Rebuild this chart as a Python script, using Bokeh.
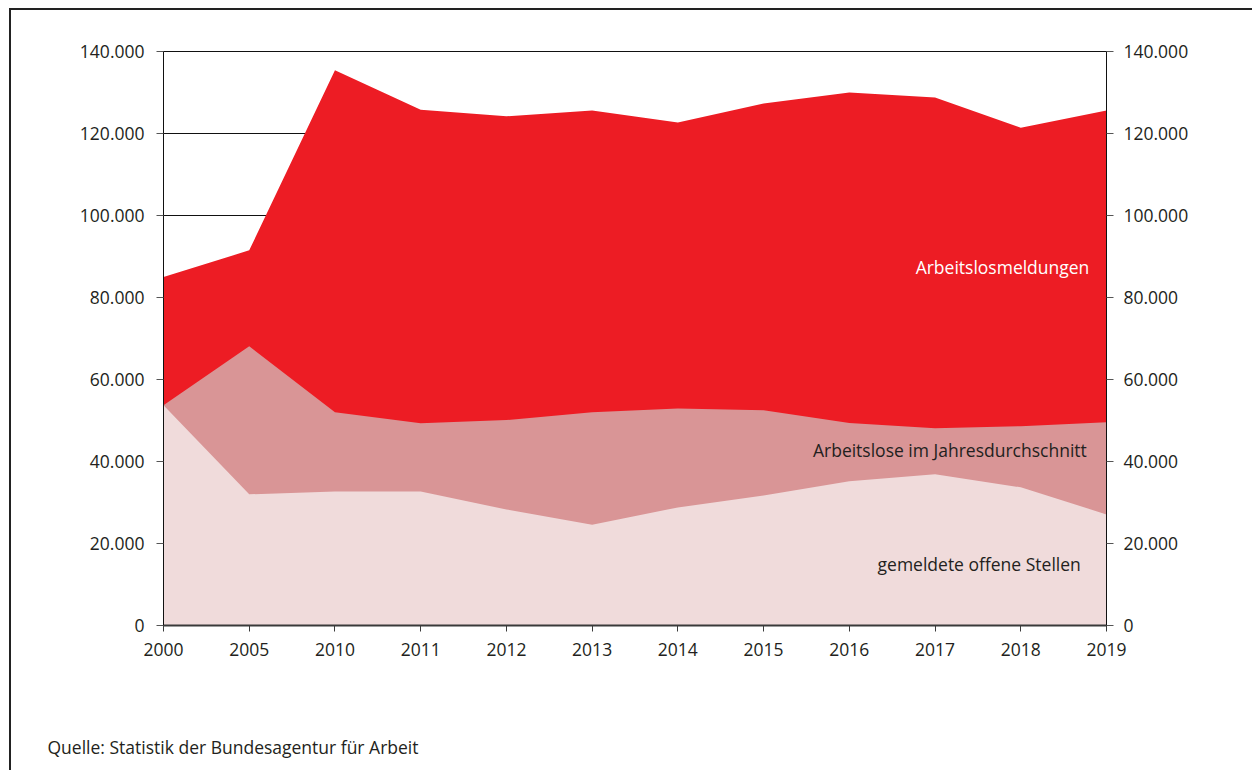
from bokeh.plotting import figure
from bokeh.models import Range1d, LinearAxis, FixedTicker, Label, Title
from bokeh.embed import file_html
from bokeh.resources import INLINE

years = ["2000", "2005", "2010", "2011", "2012", "2013", "2014", "2015", "2016", "2017", "2018", "2019"]
arbeitslosmeldungen = [85000, 91500, 135400, 125800, 124200, 125600, 122700, 127300, 130000, 128800, 121400, 125600]
arbeitslose = [53700, 68100, 52000, 49300, 50100, 52000, 52900, 52500, 49400, 48100, 48600, 49600]
offene_stellen = [53700, 32000, 32700, 32700, 28300, 24600, 28800, 31700, 35200, 36900, 33700, 27100]
y_ticks = [0, 20000, 40000, 60000, 80000, 100000, 120000, 140000]
y_tick_labels = ["0", "20.000", "40.000", "60.000", "80.000", "100.000", "120.000", "140.000"]

FONT = "Open Sans"
TXT = "#231f20"
idx = list(range(len(years)))

p = figure(width=1243, height=762, output_backend="svg", toolbar_location=None,
           x_range=Range1d(0, len(years) - 1), y_range=Range1d(0, 140000),
           min_border_left=152, min_border_right=148, min_border_top=41, min_border_bottom=147)
p.styles = {"margin-left": "9px", "margin-top": "8px",
            "border-top": "2px solid #222", "border-left": "2px solid #222"}
p.outline_line_color = "#111111"
p.outline_line_width = 1
p.background_fill_color = "white"
p.border_fill_color = "white"

p.varea(x=idx, y1=0, y2=arbeitslosmeldungen, fill_color="#ed1c24")
p.varea(x=idx, y1=0, y2=arbeitslose, fill_color="#d99596")
p.varea(x=idx, y1=0, y2=offene_stellen, fill_color="#f0dbdb")

p.xgrid.visible = False
p.ygrid.ticker = FixedTicker(ticks=y_ticks)
p.ygrid.grid_line_color = "#111111"
p.ygrid.grid_line_width = 1

overrides = {t: l for t, l in zip(y_ticks, y_tick_labels)}

def style_y(ax, standoff):
    ax.ticker = FixedTicker(ticks=y_ticks)
    ax.major_label_overrides = overrides
    ax.axis_line_color = "#111111"
    ax.axis_line_width = 1
    ax.major_tick_line_color = "#555555"
    ax.major_tick_out = 7
    ax.major_tick_in = 0
    ax.minor_tick_line_color = None
    ax.major_label_text_font = FONT
    ax.major_label_text_font_size = "17.5px"
    ax.major_label_text_color = TXT
    ax.major_label_standoff = standoff

style_y(p.yaxis[0], 12)
ry = LinearAxis()
style_y(ry, 10)
p.add_layout(ry, "right")

xa = p.xaxis[0]
xa.ticker = FixedTicker(ticks=idx)
xa.major_label_overrides = {i: y for i, y in zip(idx, years)}
xa.axis_line_color = "#3a3a3a"
xa.axis_line_width = 2
xa.major_tick_line_color = "#3a3a3a"
xa.major_tick_out = 6
xa.major_tick_in = 0
xa.minor_tick_line_color = None
xa.major_label_text_font = FONT
xa.major_label_text_font_size = "17.5px"
xa.major_label_text_color = TXT
xa.major_label_standoff = 11

p.add_layout(Label(x=10.8, y=87500, text="Arbeitslosmeldungen", text_align="right",
                   text_baseline="middle", text_font=FONT, text_font_size="17.5px", text_color="white"))
p.add_layout(Label(x=10.77, y=42700, text="Arbeitslose im Jahresdurchschnitt", text_align="right",
                   text_baseline="middle", text_font=FONT, text_font_size="17.5px", text_color=TXT))
p.add_layout(Label(x=10.7, y=15100, text="gemeldete offene Stellen", text_align="right",
                   text_baseline="middle", text_font=FONT, text_font_size="17.5px", text_color=TXT))

spacer = Title(text=" ", align="left", standoff=48, text_font=FONT, text_font_size="17.5px",
               text_font_style="normal", text_color="white")
p.add_layout(spacer, "below")
source = Title(text="Quelle: Statistik der Bundesagentur für Arbeit", align="left", offset=-116,
               standoff=0, text_font=FONT, text_font_size="17.5px", text_font_style="normal",
               text_color=TXT)
p.add_layout(source, "below")

open("out.html", "w").write(file_html(p, INLINE))
